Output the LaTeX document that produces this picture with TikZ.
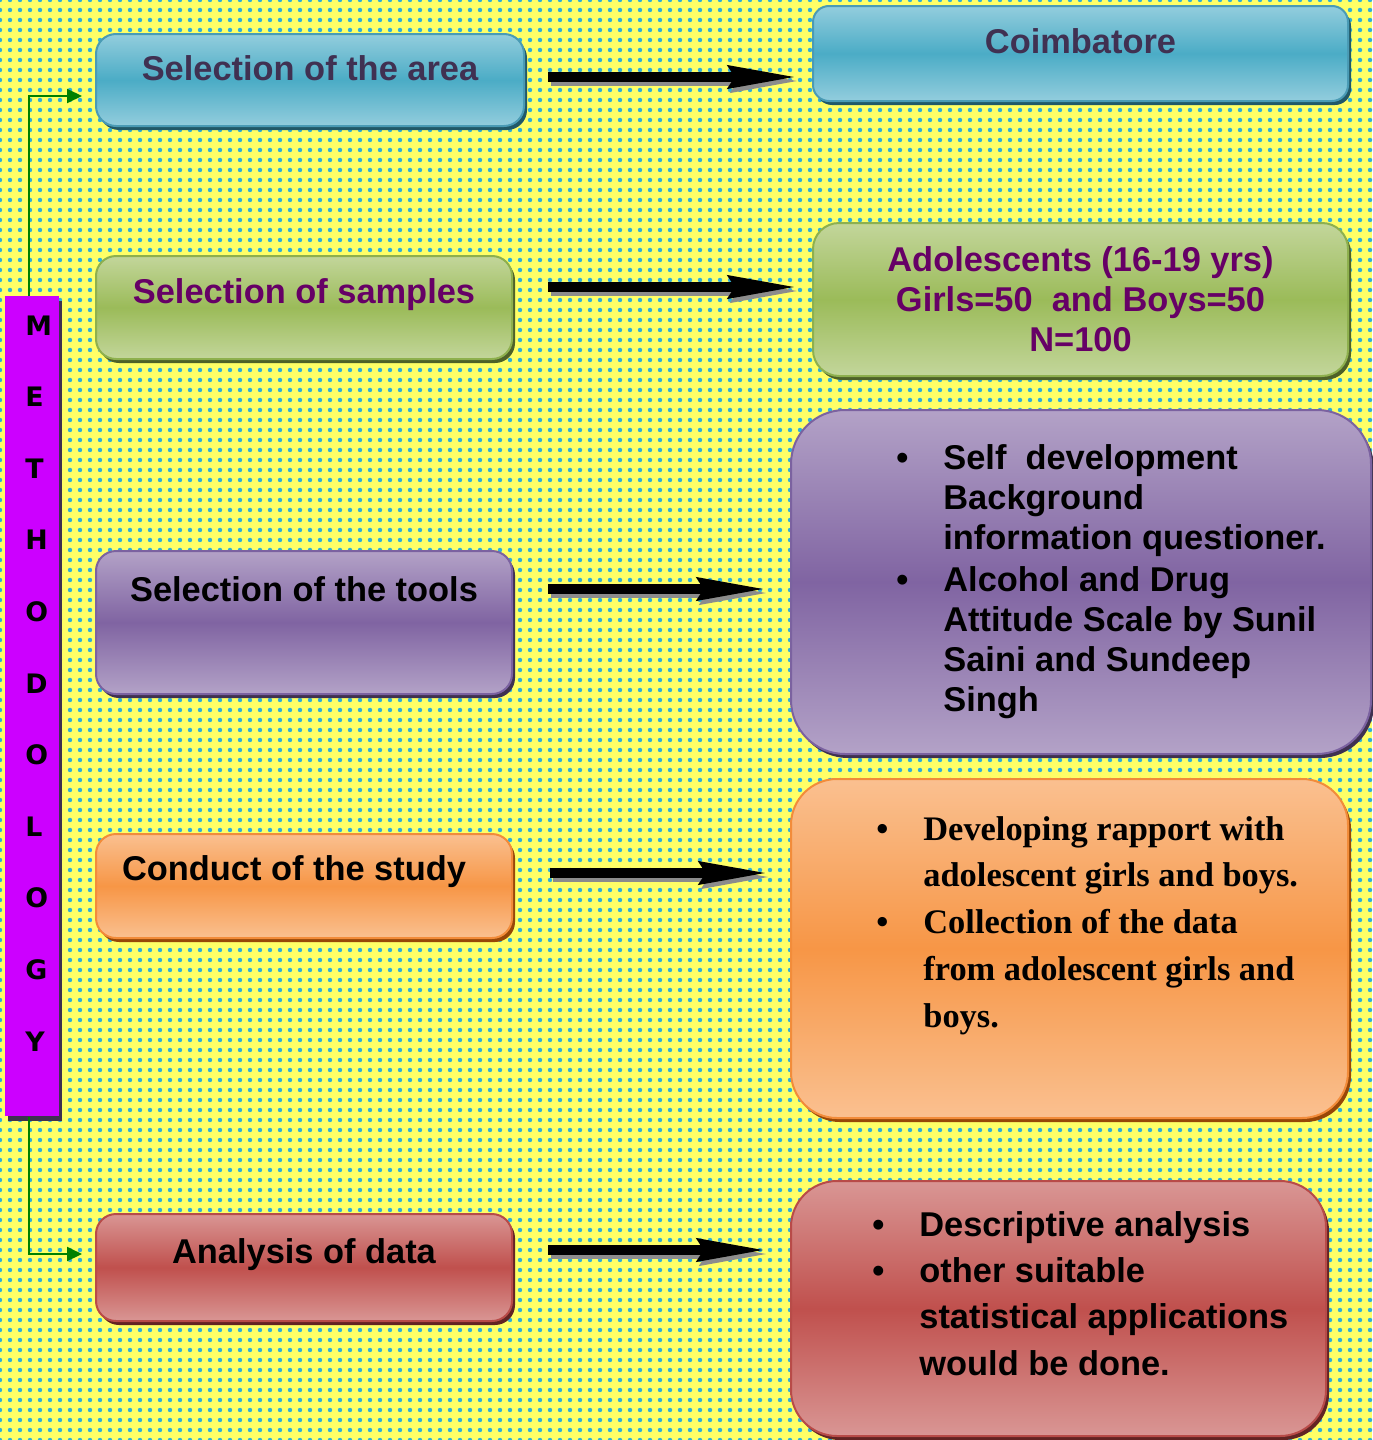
\documentclass[tikz,border=0pt]{standalone}
\usepackage{fontspec}
\setmainfont{Liberation Sans}
\newfontfamily\serifbold{Liberation Serif}
\newfontfamily\barfont{DejaVu Sans}
\usepackage{tikz}
\usetikzlibrary{arrows.meta,shadows,patterns.meta}

\definecolor{bgyellow}{HTML}{FFFF66}
\definecolor{dotcyan}{HTML}{30B0D8}
\definecolor{blueL}{HTML}{93CDDD}
\definecolor{blueM}{HTML}{4BACC6}
\definecolor{blueB}{HTML}{4A9BB5}
\definecolor{blueD}{HTML}{215968}
\definecolor{greenL}{HTML}{C3D69B}
\definecolor{greenM}{HTML}{9BBB59}
\definecolor{greenB}{HTML}{8EB04E}
\definecolor{greenD}{HTML}{4F6228}
\definecolor{purpL}{HTML}{B3A2C7}
\definecolor{purpM}{HTML}{8064A2}
\definecolor{purpB}{HTML}{7B62A0}
\definecolor{purpD}{HTML}{3F3151}
\definecolor{orngL}{HTML}{FAC090}
\definecolor{orngM}{HTML}{F79646}
\definecolor{orngB}{HTML}{F28C3A}
\definecolor{orngD}{HTML}{984807}
\definecolor{redL}{HTML}{D99694}
\definecolor{redM}{HTML}{C0504D}
\definecolor{redB}{HTML}{B84B48}
\definecolor{redD}{HTML}{632423}
\definecolor{blueText}{HTML}{403152}
\definecolor{greenText}{HTML}{660066}
\definecolor{barMag}{HTML}{CC00FF}
\definecolor{barShadow}{HTML}{3F3151}
\definecolor{linkGreen}{HTML}{008000}

\newcommand\bul{\makebox[23.5pt][l]{\textbullet}}

\begin{document}
\begin{tikzpicture}[x=0.5pt,y=-0.5pt,
  box/.style={draw,line width=1pt,inner sep=0pt,anchor=north west,
    font=\fontsize{17.2}{20}\selectfont\bfseries},
  boxpaint/.style n args={4}{draw=#1,top color=#2,bottom color=#2,middle color=#3,
    drop shadow={shadow xshift=1.5pt,shadow yshift=-2pt,fill=#4,opacity=1}},
  listtext/.style={inner sep=0pt,anchor=base west},
  barletter/.style={inner sep=0pt,anchor=base west,font=\barfont\fontsize{13.4}{16}\selectfont\bfseries},
  bigarrow/.style={line width=5pt,-{Stealth[length=34pt,width=11pt,inset=3pt]}},
  arrowshadow/.style={bigarrow,draw=black!45,transform canvas={shift={(1.5pt,-2pt)}}},
  greenline/.style={draw=linkGreen,line width=1pt,-{Triangle[length=7.5pt,width=7pt]},shorten >=6.5pt}]

\useasboundingbox (0,0) rectangle (1372,1440);
\fill[bgyellow] (0,0) rectangle (1372,1440);
\fill[pattern={Dots[distance=5pt,radius=1.1pt]},pattern color=dotcyan] (0,0) rectangle (1372,1440);

% left column
\node[box,boxpaint={blueB}{blueL}{blueM}{blueD},rounded corners=10pt,text=blueText,
  minimum width=214pt,text height=23pt,text depth=23pt] (a1) at (95,33) {Selection of the area};
\node[box,boxpaint={greenB}{greenL}{greenM}{greenD},rounded corners=10pt,text=greenText,
  minimum width=208pt,text height=23.5pt,text depth=28pt] (a2) at (95,255) {Selection of samples};
\node[box,boxpaint={purpB}{purpL}{purpM}{purpD},rounded corners=10pt,
  minimum width=208pt,text height=25pt,text depth=46.5pt] (a3) at (95,550) {Selection of the tools};
\node[box,boxpaint={orngB}{orngL}{orngM}{orngD},rounded corners=10pt,
  minimum width=208pt,text height=23pt,text depth=29pt] (a4) at (95,833) {Conduct of the study\hspace*{10pt}};
\node[box,boxpaint={redB}{redL}{redM}{redD},rounded corners=10pt,
  minimum width=208pt,text height=24.5pt,text depth=29pt] (a5) at (95,1213) {Analysis of data};

% right column
\node[box,boxpaint={blueB}{blueL}{blueM}{blueD},rounded corners=8pt,text=blueText,
  minimum width=267.5pt,text height=23.5pt,text depth=24pt] (b1) at (812,5) {Coimbatore};
\node[box,boxpaint={greenB}{greenL}{greenM}{greenD},rounded corners=13pt,text=greenText,
  minimum width=267.5pt,minimum height=76.5pt,align=center] (b2) at (812,222)
  {Adolescents (16-19 yrs)\\Girls=50~ and Boys=50\\N=100};
\node[box,boxpaint={purpB}{purpL}{purpM}{purpD},rounded corners=27pt,
  minimum width=290pt,minimum height=172pt] (b3) at (790,409) {};
\node[box,boxpaint={orngB}{orngL}{orngM}{orngD},rounded corners=23pt,
  minimum width=278.5pt,minimum height=169.5pt] (b4) at (790,778) {};
\node[box,boxpaint={redB}{redL}{redM}{redD},rounded corners=23pt,
  minimum width=267.5pt,minimum height=127.5pt] (b5) at (790,1180) {};

\node[listtext,font=\fontsize{17.2}{20}\selectfont\bfseries] (t3) at (896,469)
  {\begin{tabular}[t]{@{}l@{}l@{}}
   \bul & Self~ development\\
        & Background\\
        & information questioner.\\[1pt]
   \bul & Alcohol and Drug\\
        & Attitude Scale by Sunil\\
        & Saini and Sundeep\\
        & Singh
   \end{tabular}};
\node[listtext,font=\serifbold\fontsize{17.2}{23.4}\selectfont\bfseries] (t4) at (876,840)
  {\begin{tabular}[t]{@{}l@{}l@{}}
   \bul & Developing rapport with\\
        & adolescent girls and boys.\\
   \bul & Collection of the data\\
        & from adolescent girls and\\
        & boys.
   \end{tabular}};
\node[listtext,font=\fontsize{17.2}{23.2}\selectfont\bfseries] (t5) at (872,1236)
  {\begin{tabular}[t]{@{}l@{}l@{}}
   \bul & Descriptive analysis\\
   \bul & other suitable\\
        & statistical applications\\
        & would be done.
   \end{tabular}};

% methodology bar
\node[fill=barMag,inner sep=0pt,anchor=north west,minimum width=27pt,minimum height=410pt,
  drop shadow={shadow xshift=1.5pt,shadow yshift=-2.5pt,fill=barShadow,opacity=1}] (bar) at (5,296) {};
\foreach \c [count=\i from 0] in {M,E,T,H,O,D,O,L,O,G,Y}
  \node[barletter] (m\i) at (25,{335+71.6*\i}) {\c};

% arrows
\path (a1.east |- 0,77) edge[arrowshadow,shorten <=11.5pt,shorten >=7.5pt] (b1.west |- 0,77)
                        edge[bigarrow,shorten <=11.5pt,shorten >=7.5pt] (b1.west |- 0,77);
\path (a2.east |- 0,287) edge[arrowshadow,shorten <=17.5pt,shorten >=7.5pt] (b2.west |- 0,287)
                         edge[bigarrow,shorten <=17.5pt,shorten >=7.5pt] (b2.west |- 0,287);
\path (a3.east |- 0,589) edge[arrowshadow,shorten <=17.5pt,shorten >=12pt] (b3.west |- 0,589)
                         edge[bigarrow,shorten <=17.5pt,shorten >=12pt] (b3.west |- 0,589);
\path (a4.east |- 0,873) edge[arrowshadow,shorten <=18.5pt,shorten >=11pt] (b4.west |- 0,873)
                         edge[bigarrow,shorten <=18.5pt,shorten >=11pt] (b4.west |- 0,873);
\path (a5.east |- 0,1250) edge[arrowshadow,shorten <=17.5pt,shorten >=12pt] (b5.west |- 0,1250)
                          edge[bigarrow,shorten <=17.5pt,shorten >=12pt] (b5.west |- 0,1250);

\draw[greenline] ([xshift=-1.5pt]bar.north) |- ([yshift=-8pt]a1.west);
\draw[greenline] ([xshift=-1.5pt]bar.south) |- ([yshift=6.75pt]a5.west);

\end{tikzpicture}
\end{document}
